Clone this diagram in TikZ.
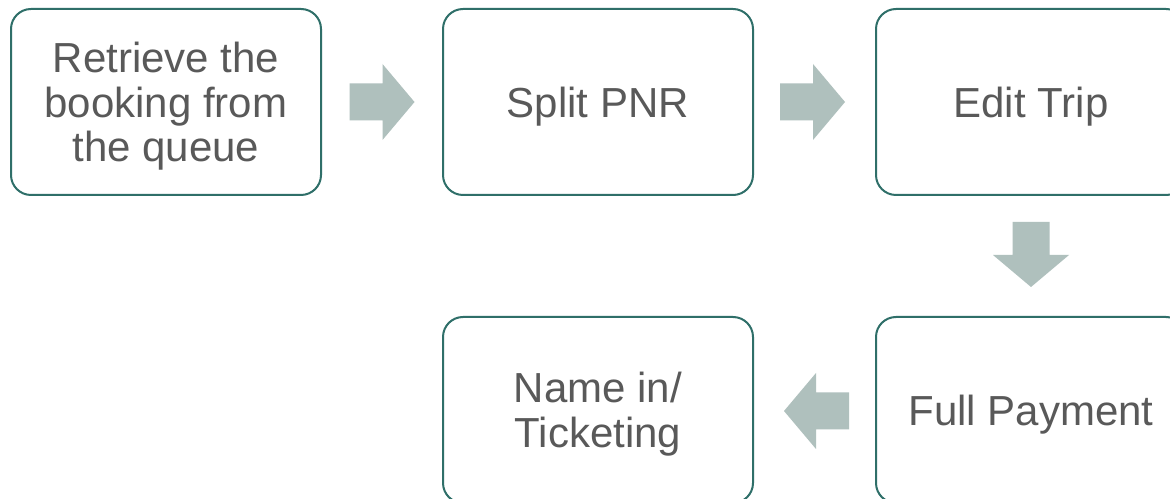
\documentclass[tikz,border=0pt]{standalone}
\usepackage{fontspec}
\setmainfont{Liberation Sans}
\usetikzlibrary{calc}
\definecolor{boxline}{HTML}{2F6F69}
\definecolor{arrowfill}{HTML}{AFC0BD}
\definecolor{txt}{HTML}{595959}
\newcommand{\topstrut}{\rule{0pt}{39pt}}
\tikzset{
  stepbox/.style={draw=boxline, line width=2pt, rounded corners=20pt, fill=white,
    minimum width=310pt, minimum height=186pt, inner sep=0pt, align=center,
    text=txt, font=\fontsize{42}{44.5}\selectfont},
  blockarr/.style={fill=arrowfill, draw=none}
}
\newcommand{\blockarrowpath}{(-32.5,-18.5) -- (0.5,-18.5) -- (0.5,-38) -- (32.5,0) -- (0.5,38) -- (0.5,18.5) -- (-32.5,18.5) -- cycle}
\begin{document}
\begin{tikzpicture}[x=1pt,y=1pt]
\useasboundingbox (0,0) rectangle (1170,498);
\fill[white] (0,0) rectangle (1170,498);
\node[stepbox] (b1) at (166,396) {\topstrut Retrieve the\\booking from\\the queue};
\node[stepbox] (b2) at (598,396) {\topstrut Split PNR};
\node[stepbox] (b3) at (1031,396) {\topstrut Edit Trip};
\node[stepbox] (b5) at (1031,88) {\topstrut Full Payment};
\node[stepbox] (b4) at (598,88) {\topstrut Name in/\\Ticketing};
\coordinate (a1) at ($(b1.east)!0.5!(b2.west)$);
\coordinate (a2) at ($(b2.east)!0.5!(b3.west)+(-2,0)$);
\coordinate (a3) at ($(b3.south)!0.5!(b5.north)+(0,1.5)$);
\coordinate (a4) at ($(b5.west)!0.5!(b4.east)+(2,-1)$);
\fill[blockarr, shift={(a1)}] \blockarrowpath;
\fill[blockarr, shift={(a2)}] \blockarrowpath;
\fill[blockarr, shift={(a3)}, rotate=-90] \blockarrowpath;
\fill[blockarr, shift={(a4)}, rotate=180] \blockarrowpath;
\end{tikzpicture}
\end{document}
